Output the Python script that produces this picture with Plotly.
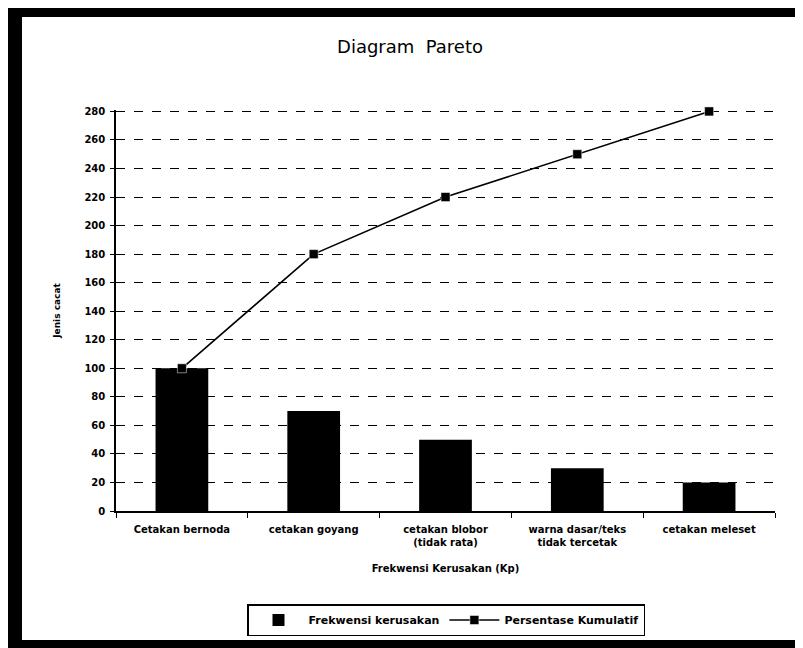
import plotly.graph_objects as go

categories = ["Cetakan bernoda", "cetakan goyang", "cetakan blobor<br>(tidak rata)",
              "warna dasar/teks<br>tidak tercetak", "cetakan meleset"]
frekwensi = [100, 70, 50, 30, 20]
kumulatif = [100, 180, 220, 250, 280]
y_ticks = [0, 20, 40, 60, 80, 100, 120, 140, 160, 180, 200, 220, 240, 260, 280]

# page body has an 8px margin, so the figure is shifted by 8px in the window
OFF = 8
W, H = 803 - OFF, 648 - OFF
L, R, T, B = 116, 775, 110, 511          # plot area in window pixels
pw, ph = R - L, B - T

def px(x):
    return (x - L) / pw

def py(y):
    return (B - y) / ph

font = "DejaVu Sans, Liberation Sans, Arial, sans-serif"

fig = go.Figure()
fig.add_trace(go.Bar(x=categories, y=frekwensi, name="Frekwensi kerusakan",
                     marker=dict(color="black", line=dict(color="black", width=0)),
                     width=0.4))
fig.add_trace(go.Scatter(x=categories, y=kumulatif, name="Persentase Kumulatif",
                         mode="lines+markers", cliponaxis=False,
                         line=dict(color="black", width=1.6),
                         marker=dict(symbol="square", size=9, color="black",
                                     line=dict(color="white", width=0.5))))

shapes = [
    dict(type="rect", xref="paper", yref="paper", x0=px(8), x1=px(803), y0=py(648), y1=py(5),
         fillcolor="black", line=dict(width=0), layer="below"),
    dict(type="rect", xref="paper", yref="paper", x0=px(22), x1=px(797), y0=py(640), y1=py(17),
         fillcolor="white", line=dict(width=0), layer="below"),
]

fig.update_layout(
    width=W, height=H,
    margin=dict(l=L - OFF, r=W - (R - OFF), t=T - OFF, b=H - (B - OFF)),
    paper_bgcolor="white",
    plot_bgcolor="rgba(0,0,0,0)",
    shapes=shapes,
    font=dict(family=font, color="black", size=10),
    title=dict(text="Diagram  Pareto", x=px(410), xref="paper", xanchor="center",
               y=1 - (47 - OFF) / H, yanchor="middle",
               font=dict(size=18, family=font, color="black")),
    showlegend=True,
    legend=dict(orientation="h", x=px(446), xanchor="center", y=py(620), yanchor="middle",
                bordercolor="black", borderwidth=1.5, bgcolor="white",
                font=dict(size=11, family=font, weight="bold"), traceorder="normal",
                itemwidth=50),
    bargap=0.6,
)
fig.update_xaxes(showline=True, linecolor="black", linewidth=1.5,
                 ticks="outside", tickson="boundaries", ticklen=5, tickcolor="black",
                 ticklabelstandoff=8,
                 tickfont=dict(size=10, family=font, weight="bold"), showgrid=False,
                 title=dict(text="Frekwensi Kerusakan (Kp)",
                            font=dict(size=10, family=font, weight="bold"),
                            standoff=18))
fig.update_yaxes(range=[0, 281], tickvals=y_ticks, ticktext=[str(v) for v in y_ticks],
                 showline=True, linecolor="black", linewidth=1.5,
                 ticks="outside", ticklen=4, tickcolor="black", ticklabelstandoff=3,
                 tickfont=dict(size=10, family=font, weight="bold"), zeroline=False,
                 showgrid=True, gridcolor="black", gridwidth=1.4, griddash="dash",
                 title=dict(text="<b>Jenis cacat</b>", font=dict(size=9, family=font),
                            standoff=22))

fig.write_html("out.html")
